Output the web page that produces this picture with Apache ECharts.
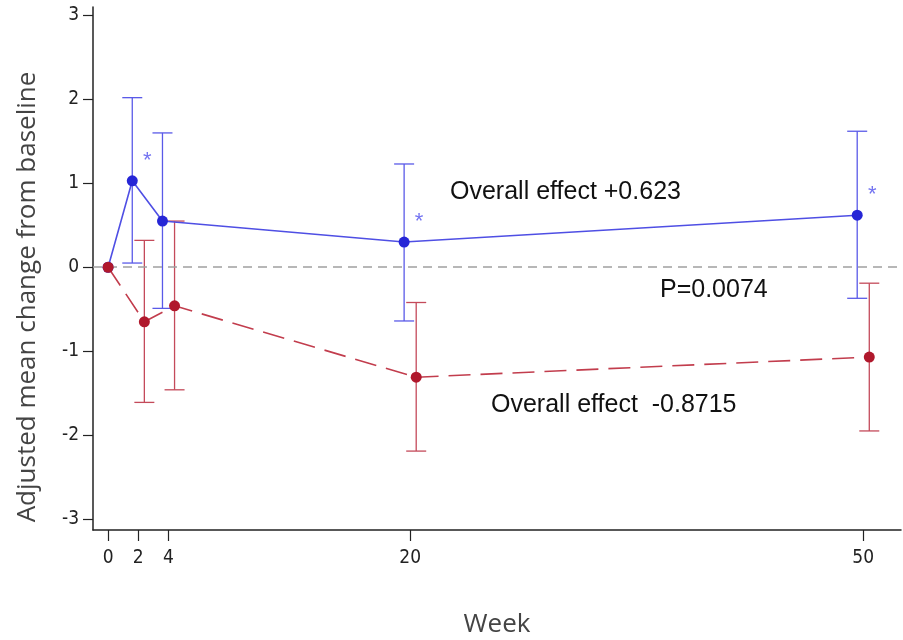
<!DOCTYPE html>
<html>
<head>
<meta charset="utf-8">
<script src="https://cdn.jsdelivr.net/npm/echarts@6/dist/echarts.min.js"></script>
<style>
  html, body { margin: 0; padding: 0; background: #fff; }
  #chart { width: 903px; height: 640px; }
</style>
</head>
<body>
<div id="chart"></div>
<script>
// data
var weeks = [0, 2, 4, 20, 50];
var blueMean = [0, 1.03, 0.55, 0.30, 0.62];
var blueLow = [null, 0.05, -0.49, -0.64, -0.37];
var blueHigh = [null, 2.02, 1.60, 1.23, 1.62];
var redMean = [0, -0.65, -0.46, -1.31, -1.07];
var redLow = [null, -1.61, -1.46, -2.19, -1.95];
var redHigh = [null, 0.32, 0.55, -0.42, -0.19];
var starred = [1, 3, 4];
var yTicks = [-3, -2, -1, 0, 1, 2, 3];

var dodge = 0.4;
var blueDot = '#2626d6', blueLine = '#4f4fe4';
var redDot = '#b0182c', redLine = '#c23d4d';
var tickFont = '"Liberation Sans Narrow", "DejaVu Sans Condensed", sans-serif';
var noteFont = '25px "Liberation Sans", Arial, sans-serif';

function shift(i, d) { return i === 0 ? 0 : weeks[i] + d; }

var blueLineData = weeks.map(function (w, i) { return [shift(i, -dodge), blueMean[i]]; });
var redLineData = weeks.map(function (w, i) { return [shift(i, dodge), redMean[i]]; });

function barData(low, high, d) {
  var out = [];
  weeks.forEach(function (w, i) {
    if (low[i] != null) out.push([shift(i, d), low[i], high[i]]);
  });
  return out;
}

function errorBars(color) {
  return function (params, api) {
    var lo = api.coord([api.value(0), api.value(1)]);
    var hi = api.coord([api.value(0), api.value(2)]);
    var cap = 10;
    var st = { stroke: color, lineWidth: 1.3 };
    return {
      type: 'group',
      children: [
        { type: 'line', shape: { x1: lo[0], y1: lo[1], x2: hi[0], y2: hi[1] }, style: st },
        { type: 'line', shape: { x1: lo[0] - cap, y1: lo[1], x2: lo[0] + cap, y2: lo[1] }, style: st },
        { type: 'line', shape: { x1: hi[0] - cap, y1: hi[1], x2: hi[0] + cap, y2: hi[1] }, style: st }
      ]
    };
  };
}

var chart = echarts.init(document.getElementById('chart'));

var option = {
  animation: false,
  grid: { left: 93, right: 2, top: 7, bottom: 110, outerBoundsMode: 'none', containLabel: false },
  xAxis: {
    type: 'value',
    min: -1,
    max: 52.5,
    name: 'Week',
    nameLocation: 'middle',
    nameGap: 82,
    nameTextStyle: { fontSize: 26, color: '#444', fontFamily: '"Open Sans", sans-serif' },
    axisLine: { show: true, onZero: false, lineStyle: { color: '#222', width: 1.5 } },
    axisTick: { show: true, length: 11, customValues: weeks, lineStyle: { color: '#222', width: 1.2 } },
    axisLabel: { customValues: weeks, fontSize: 19, color: '#222', margin: 19, fontFamily: tickFont },
    splitLine: { show: false }
  },
  yAxis: {
    type: 'value',
    min: -3.13,
    max: 3.1,
    axisLine: { show: true, onZero: false, lineStyle: { color: '#222', width: 1.5 } },
    axisTick: { show: true, length: 10, customValues: yTicks, lineStyle: { color: '#222', width: 1.2 } },
    axisLabel: { customValues: yTicks, fontSize: 19, color: '#222', margin: 14, fontFamily: tickFont },
    splitLine: { show: false }
  },
  series: [
    {
      type: 'line',
      data: [],
      markLine: {
        silent: true,
        symbol: 'none',
        label: { show: false },
        lineStyle: { color: '#a0a0a0', type: [9, 6], width: 1.5 },
        data: [{ yAxis: 0 }]
      }
    },
    {
      type: 'custom',
      renderItem: errorBars('#5a5ae8'),
      data: barData(blueLow, blueHigh, -dodge),
      z: 3
    },
    {
      type: 'custom',
      renderItem: errorBars('#c44a5a'),
      data: barData(redLow, redHigh, dodge),
      z: 3
    },
    {
      type: 'line',
      data: blueLineData,
      symbol: 'circle',
      symbolSize: 11,
      itemStyle: { color: blueDot },
      lineStyle: { color: blueLine, width: 1.6 },
      z: 4
    },
    {
      type: 'line',
      data: redLineData,
      symbol: 'circle',
      symbolSize: 11,
      itemStyle: { color: redDot },
      lineStyle: { color: redLine, width: 1.6, type: [22, 10] },
      z: 5
    },
    {
      type: 'scatter',
      data: starred.map(function (i) { return [shift(i, -dodge), blueMean[i]]; }),
      symbolSize: 0,
      label: {
        show: true,
        formatter: '*',
        position: 'inside',
        offset: [15, -20],
        fontSize: 22,
        color: '#5050ee',
        fontFamily: 'Liberation Sans, sans-serif'
      },
      z: 6
    }
  ],
  graphic: [
    {
      type: 'text', x: 28, y: 297, rotation: Math.PI / 2,
      style: {
        text: 'Adjusted mean change from baseline',
        font: '26px "Open Sans", sans-serif', fill: '#444',
        align: 'center', verticalAlign: 'middle'
      }
    },
    { type: 'text', left: 450, top: 180, style: { text: 'Overall effect +0.623', font: noteFont, fill: '#111' } },
    { type: 'text', left: 660, top: 278, style: { text: 'P=0.0074', font: noteFont, fill: '#111' } },
    { type: 'text', left: 491, top: 393, style: { text: 'Overall effect  -0.8715', font: noteFont, fill: '#111' } }
  ]
};

chart.setOption(option);
</script>
</body>
</html>
